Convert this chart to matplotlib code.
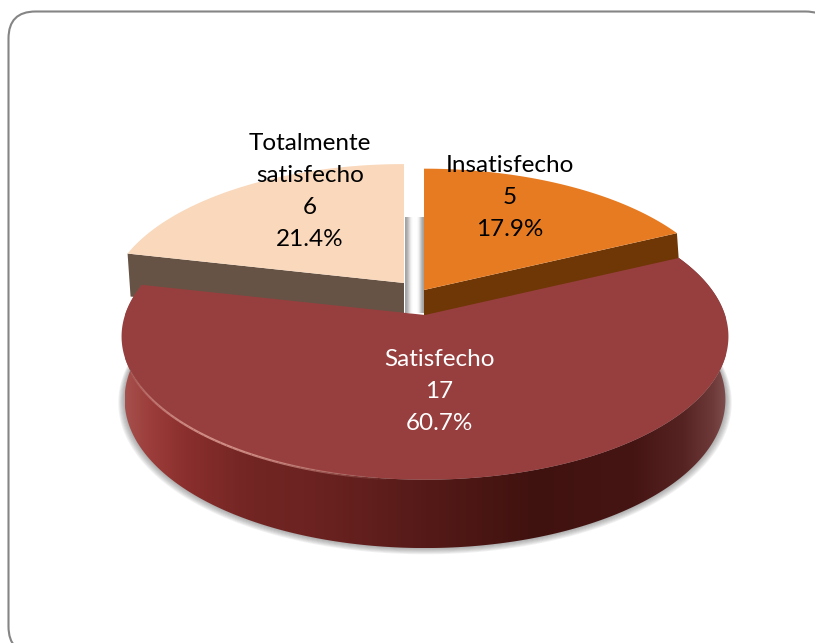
import numpy as np
import matplotlib
matplotlib.use("Agg")
import matplotlib.pyplot as plt
from matplotlib.colors import LinearSegmentedColormap
from matplotlib.patches import FancyBboxPatch, Polygon

plt.rcParams["font.family"] = ["Lato", "DejaVu Sans"]

categories = ["Insatisfecho", "Satisfecho", "Totalmente\nsatisfecho"]
values = [5, 17, 6]
top_colors = ["#e67b22", "#973f3e", "#f9d8bb"]
cut_colors = ["#6f3606", "#5e1d1b", "#665345"]
text_colors = ["black", "white", "black"]

PERSP = 0.15


def project(theta, cx, cy, r):
    # clockwise degrees from north, onto the tilted plane
    t = np.radians(theta)
    x, y = np.sin(t), np.cos(t)
    d = 1 + PERSP * y
    return cx + r * x / d, cy - 140 * (r / 300) * y / d


def depth(theta, base):
    return base - 8 * np.cos(np.radians(theta))


total = sum(values)
edges = np.concatenate([[0], np.cumsum(values)]) * 360 / total

fig, ax = plt.subplots(figsize=(8.15, 6.43), dpi=100)
ax.set_position([0, 0, 1, 1])

# frame
ax.add_patch(FancyBboxPatch((8.5, 11.5), 824, 642, boxstyle="round,pad=0,rounding_size=27",
                            fc="white", ec="#858585", lw=1.5, zorder=0))

# pale cut faces seen through the gap
for x0, x1, ramp in [(405, 413, [0.62, 1]), (417, 424, [1, 0.62])]:
    ax.imshow([ramp], extent=[x0, x1, 313, 217], cmap="gray", vmin=0, vmax=1,
              aspect="auto", interpolation="bicubic", zorder=1)

# back slices: insatisfecho and totalmente
for i, cx, cy, r, ang in [(0, 424, 290, 299, edges[1]), (2, 404, 283, 293, edges[2])]:
    tx, ty = project(ang, cx, cy, r)
    ax.fill([cx, tx, tx + 3, cx], [cy, ty, ty + 43, cy + 43], color=cut_colors[i], lw=0, zorder=2)
    th = np.linspace(edges[i], edges[i + 1], 100)
    ax_, ay_ = project(th, cx, cy, r)
    ax.fill(np.r_[cx, ax_], np.r_[cy, ay_], color=top_colors[i], lw=0, zorder=3)

# satisfecho
cx, cy, r = 425, 315, 300
th = np.linspace(edges[1], edges[2], 300)
tx, ty = project(th, cx, cy, r)
bx, by = project(th, cx, cy, r * 0.99)
by = by + depth(th, 62)

# soft shadow under the disc, front part only
shadow_th = np.linspace(75, 285, 200)
for k in range(8):
    sx, sy = project(shadow_th, cx, cy, r * (0.99 + 0.003 * k))
    ax.fill(sx, sy + depth(shadow_th, 62) + 0.4 * k, color="#555555",
            alpha=0.08, lw=0, zorder=4)

wall_cmap = LinearSegmentedColormap.from_list("wall", [
    (0.0, "#a5504c"), (0.04, "#9c3d3b"), (0.1, "#8a2f2d"), (0.2, "#732624"),
    (0.33, "#6a2220"), (0.5, "#551a18"), (0.68, "#40120f"), (0.85, "#451514"),
    (0.93, "#552322"), (0.98, "#6e3a39"), (1.0, "#7d4c4c")])
wall = ax.imshow(np.linspace(0, 1, 256)[None, :], extent=[bx.min(), bx.max(), by.max(), by.min() - 70],
                 cmap=wall_cmap, aspect="auto", zorder=5)
wall_poly = Polygon(np.c_[np.r_[tx, bx[::-1]], np.r_[ty, by[::-1]]], closed=True,
                    transform=ax.transData, fc="none", ec="none")
ax.add_patch(wall_poly)
wall.set_clip_path(wall_poly)

ax.fill(np.r_[cx, tx], np.r_[cy, ty], color=top_colors[1], lw=0, zorder=6)

# light on the front rim
rim = np.linspace(185, 250, 50)
rx, ry = project(rim, cx, cy, r)
for j in range(len(rim) - 1):
    ax.plot(rx[j:j + 2], ry[j:j + 2] + 0.5, color="#dc9a92", lw=1.6,
            alpha=float(np.sin(np.pi * j / (len(rim) - 2))) * 0.85,
            solid_capstyle="butt", zorder=7)

# labels
label_pos = [(510, 165), (439, 359), (310, 143)]
for name, v, col, (lx, ly) in zip(categories, values, text_colors, label_pos):
    lines = name.split("\n") + [str(v), f"{v / total * 100:.1f}%"]
    for n, line in enumerate(lines):
        ax.text(lx, ly + n * 32, line, color=col, fontsize=17.5,
                ha="center", va="center", zorder=8)

ax.set_xlim(0, 815)
ax.set_ylim(643, 0)
ax.axis("off")
fig.savefig("out.png", dpi=100)
